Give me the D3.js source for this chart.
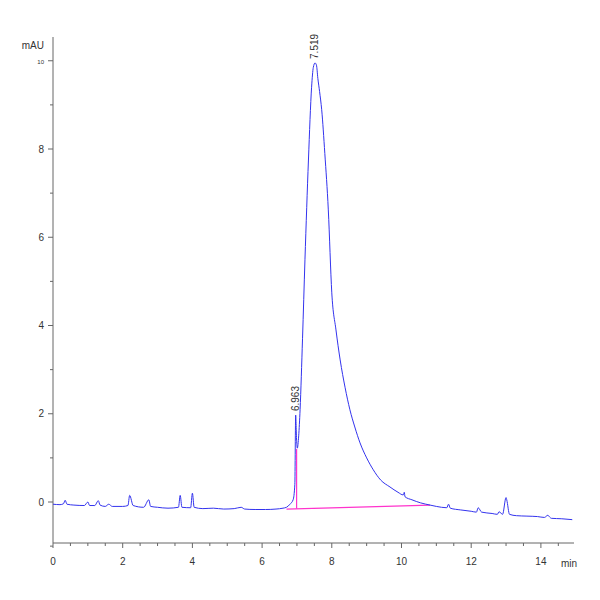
<!DOCTYPE html>
<html><head><meta charset="utf-8">
<script src="https://cdn.jsdelivr.net/npm/d3@7"></script>
<style>body{margin:0;background:#fff}</style>
</head><body>
<svg id="chart" width="600" height="600"></svg>
<script>
// chromatogram trace, time (min) and signal (mAU)
var times = [0,0.2,0.3,0.35,0.4,0.6,0.9,1.0,1.05,1.2,1.3,1.35,1.5,1.6,1.7,2.0,2.15,2.2,2.3,2.6,2.75,2.8,3.0,3.3,3.6,3.65,3.7,3.95,4.0,4.05,4.3,4.6,4.9,5.2,5.4,5.5,5.8,6.1,6.4,6.6,6.7,6.8,6.89,6.94,6.963,6.99,7.01,7.05,7.09,7.16,7.23,7.33,7.42,7.47,7.519,7.56,7.6,7.65,7.71,7.8,7.9,8.0,8.12,8.24,8.38,8.52,8.66,8.81,9.0,9.19,9.4,9.67,9.9,10.05,10.08,10.1,10.3,10.55,10.82,11.0,11.3,11.35,11.4,11.7,12.0,12.15,12.2,12.3,12.6,12.75,12.8,12.9,13.0,13.02,13.1,13.3,13.6,13.9,14.1,14.2,14.25,14.3,14.6,14.9];
var values = [-0.05,-0.06,-0.04,0.04,-0.05,-0.07,-0.08,0.0,-0.08,-0.08,0.03,-0.07,-0.1,-0.05,-0.1,-0.1,-0.08,0.15,-0.08,-0.12,0.05,-0.1,-0.12,-0.14,-0.12,0.15,-0.12,-0.13,0.2,-0.12,-0.15,-0.14,-0.16,-0.15,-0.12,-0.16,-0.17,-0.17,-0.16,-0.14,-0.12,-0.05,0.05,0.4,1.97,1.4,1.22,1.5,2.09,3.7,5.49,7.75,9.4,9.85,9.95,9.9,9.6,9.3,8.89,7.9,6.62,4.74,3.9,3.22,2.6,2.09,1.7,1.34,1.0,0.73,0.5,0.34,0.22,0.16,0.22,0.12,0.05,-0.02,-0.07,-0.1,-0.13,-0.05,-0.14,-0.18,-0.21,-0.23,-0.13,-0.23,-0.26,-0.28,-0.22,-0.28,0.1,0.05,-0.28,-0.31,-0.32,-0.33,-0.35,-0.3,-0.34,-0.37,-0.38,-0.4];
var peakTimes = [6.963, 7.519];
var peakLabels = ["6.963", "7.519"];
var baseStart = [6.7, -0.16], baseEnd = [10.82, -0.07];
var xTicks = [0,2,4,6,8,10,12,14];
var yTicks = [0,2,4,6,8,10];

var svg = d3.select("#chart");
var x = d3.scaleLinear().domain([0, 14.95]).range([53, 574]);
var y = d3.scaleLinear().domain([0, 8]).range([502, 149]);
var axisY = 543;

var font = "Liberation Sans, Arial, sans-serif";
var g = svg.append("g").style("font-family", font);

// axes
g.append("line").attr("x1", 53).attr("x2", 53).attr("y1", 37).attr("y2", axisY).attr("stroke", "#666");
g.append("line").attr("x1", 53).attr("x2", 574).attr("y1", axisY).attr("y2", axisY).attr("stroke", "#666");

d3.range(0, 15, 0.5).forEach(function (t) {
  var major = Math.abs(t - Math.round(t / 2) * 2) < 1e-9;
  g.append("line").attr("x1", x(t)).attr("x2", x(t)).attr("y1", axisY).attr("y2", axisY + (major ? 5 : 3)).attr("stroke", "#666");
});
xTicks.forEach(function (t) {
  g.append("text").attr("x", x(t)).attr("y", axisY + 22).attr("text-anchor", "middle")
    .attr("font-size", 10).attr("fill", "#333").text(t);
});
g.append("text").attr("x", 569).attr("y", axisY + 24).attr("text-anchor", "middle").attr("font-size", 10).attr("fill", "#333").text("min");

d3.range(-1, 11, 1).forEach(function (v) {
  var major = v % 2 === 0;
  g.append("line").attr("x1", 53).attr("x2", 53 - (major ? 5 : 3)).attr("y1", y(v)).attr("y2", y(v)).attr("stroke", "#666");
});
yTicks.forEach(function (v) {
  g.append("text").attr("x", 44).attr("y", y(v) + 3.5).attr("text-anchor", "end")
    .attr("font-size", v === 10 ? 6 : 10).attr("fill", "#333").text(v);
});
g.append("text").attr("x", 44).attr("y", 49).attr("text-anchor", "end").attr("font-size", 10).attr("fill", "#333").text("mAU");

// baseline & drop line
g.append("line").attr("x1", x(baseStart[0])).attr("y1", y(baseStart[1])).attr("x2", x(baseEnd[0])).attr("y2", y(baseEnd[1]))
  .attr("stroke", "#ff33cc").attr("stroke-width", 1.2);
g.append("line").attr("x1", x(6.99)).attr("x2", x(6.99)).attr("y1", y(-0.15)).attr("y2", y(1.2))
  .attr("stroke", "#ff33cc").attr("stroke-width", 1.2);

// trace
var line = d3.line().x(function (d, i) { return x(times[i]); }).y(function (d) { return y(d); }).curve(d3.curveMonotoneX);
g.append("path").datum(values).attr("d", line).attr("fill", "none").attr("stroke", "#3333ee").attr("stroke-width", 1);

// peak labels
peakTimes.forEach(function (t, i) {
  var v = values[times.indexOf(t)];
  var px = x(t) + 3, py = y(v) - 4;
  g.append("text").attr("transform", "translate(" + px + "," + py + ") rotate(-90)")
    .attr("font-size", 10).attr("fill", "#333").text(peakLabels[i]);
});
</script>
</body></html>
